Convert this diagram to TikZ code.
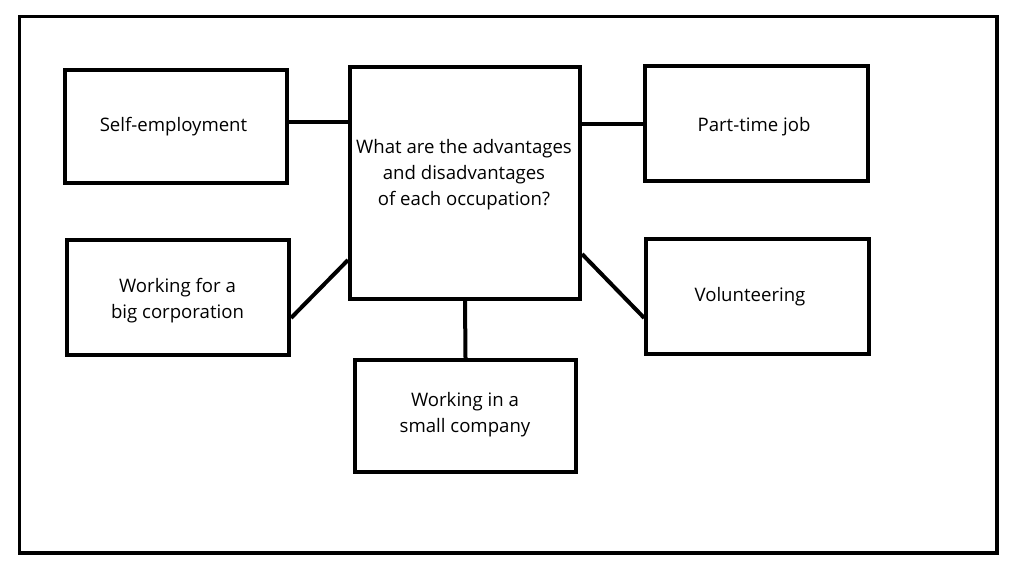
\documentclass[tikz,border=0pt]{standalone}
\usepackage{fontspec}
\setmainfont{Open Sans}
\begin{document}
\begin{tikzpicture}[x=1pt,y=-1pt,
  box/.style={draw=black,line width=4pt,rectangle,inner sep=0pt},
  txt/.style={inner sep=0pt,align=center,font=\fontsize{18.6}{26}\selectfont},
  link/.style={draw=black,line width=4pt}]
\useasboundingbox (0,0) rectangle (1024,580);
\draw[line width=3.5pt] (19.5,16.5) rectangle (997,553);
\node[box,minimum width=222pt,minimum height=113pt] (self) at (176,126.5) {};
\node[txt] (selft) at (173.5,126.5) {Self-employment};
\node[box,minimum width=230pt,minimum height=232pt] (ctr) at (465,183) {};
\node[txt] (ctrt) at (464,175) {What are the advantages\\and disadvantages\\of each occupation?};
\node[box,minimum width=223pt,minimum height=115pt] (part) at (756.5,123.5) {};
\node[txt] (partt) at (754,126.5) {Part-time job};
\node[box,minimum width=222pt,minimum height=115pt] (big) at (178,297.5) {};
\node[txt] (bigt) at (177.5,301) {Working for a\\big corporation};
\node[box,minimum width=222.5pt,minimum height=115pt] (vol) at (757.5,296.5) {};
\node[txt] (volt) at (750,296.5) {Volunteering};
\node[box,minimum width=221pt,minimum height=112pt] (small) at (465.5,416) {};
\node[txt] (smallt) at (465,414.5) {Working in a\\small company};
\draw[link] (self.east |- 0,122.5) -- (ctr.west |- 0,122.5);
\draw[link] (ctr.east |- 0,124) -- (part.west |- 0,124);
\draw[link] (ctr.west |- 0,260) -- (big.east |- 0,318);
\draw[link] (ctr.east |- 0,254) -- (vol.west |- 0,318);
\draw[link] (ctr.south) -- (small.north);
\end{tikzpicture}
\end{document}
